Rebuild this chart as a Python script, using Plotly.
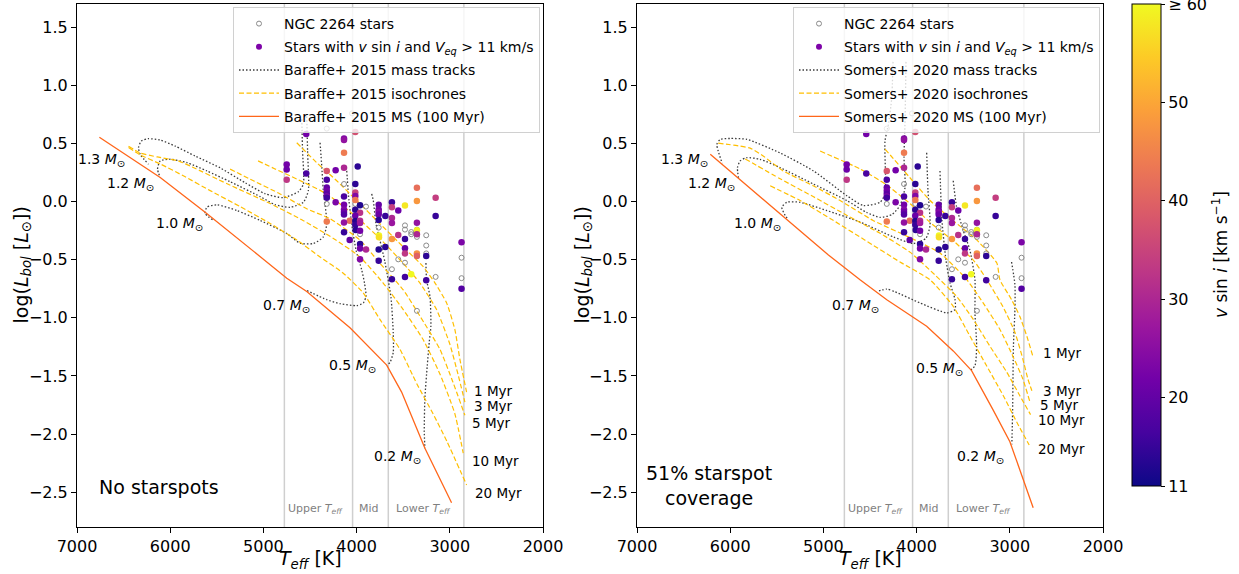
import plotly.graph_objects as go

FONT = "DejaVu Sans"
W, H = 1239, 574

# ---------------- observed stars (same in both panels) ----------------
gray_teff = [4049, 4320, 4135, 3899, 4014, 4320, 3963, 3763, 3481, 3481, 3414, 3414,
             3353, 3353, 3253, 3253, 3253, 3553, 3481, 3621, 3152, 3353, 2874, 2874]
gray_logl = [0.759, 0.628, 0.151, -0.043, -0.020, -0.020, -0.281, -0.224, -0.205, -0.241, -0.262, -0.281,
             -0.241, -0.304, -0.290, -0.378, -0.446, -0.497, -0.526, -0.582, -0.648, -0.940, -0.483, -0.659]

star_teff = [4540, 4135, 4135, 4014, 4135, 4750, 4750, 4750, 4540, 4320,
             4225, 4135, 3988, 4320, 4014, 4320, 4320, 4320, 4320, 4320,
             4014, 4014, 4135, 4014, 3963, 4225, 4135, 4135, 4135, 4135,
             4014, 3963, 4014, 4074, 4135, 4014, 4014, 3963, 3963, 4135,
             4010, 3963, 4074, 3963, 3963, 3899, 3963, 4320, 3763, 3763,
             3763, 3763, 3763, 3692, 3621, 3621, 3553, 3481, 3621, 3621,
             3553, 3760, 3760, 3621, 3481, 3692, 3763, 3763, 3481, 3481,
             3353, 3353, 3152, 3152, 3353, 3353, 3353, 3353, 3353, 3253,
             3621, 3481, 3414, 3253, 2874, 2874]
star_logl = [0.582, 0.543, 0.529, 0.599, 0.420, 0.318, 0.275, 0.188, 0.241, 0.264,
             0.270, 0.292, 0.301, 0.188, 0.151, 0.122, 0.094, 0.068, 0.043, 0.032,
             0.079, 0.049, 0.043, 0.014, -0.032, -0.006, -0.028, -0.068, -0.090, -0.111,
             -0.071, -0.096, -0.122, -0.165, -0.179, -0.168, -0.199, -0.165, -0.185, -0.264,
             -0.245, -0.250, -0.330, -0.364, -0.403, -0.412, -0.497, -0.171, -0.028, -0.068,
             -0.090, -0.111, -0.159, -0.125, -0.006, -0.049, -0.077, -0.034, -0.142, -0.185,
             -0.287, -0.292, -0.307, -0.321, -0.321, -0.390, -0.412, -0.509, -0.401, -0.446,
             0.119, 0.006, 0.034, -0.125, -0.182, -0.247, -0.281, -0.446, -0.469, -0.469,
             -0.668, -0.650, -0.625, -0.676, -0.350, -0.750]
star_vsini = [22, 24, 26, 37, 44, 22, 21, 33, 17, 38,
              22, 30, 14, 17, 14, 20, 22, 19, 24, 16,
              35, 24, 17, 44, 13, 23, 22, 24, 21, 18,
              14, 32, 21, 42, 26, 13, 15, 31, 28, 15,
              14, 22, 20, 14, 22, 30, 24, 44, 20, 22,
              24, 21, 14, 15, 15, 34, 21, 58, 30, 27,
              32, 60, 57, 48, 15, 14, 13, 15, 20, 33,
              42, 48, 34, 15, 26, 59, 30, 47, 40, 14,
              15, 16, 60, 16, 23, 18]

# ---------------- Baraffe+ 2015 ----------------
b15_ms_teff = [6760, 6107, 5625, 5143, 4749, 4535, 4071, 3677, 3517, 3267, 2981]
b15_ms_logl = [0.554, 0.207, -0.091, -0.401, -0.659, -0.773, -1.085, -1.407, -1.639, -2.123, -2.592]

b15_m13_teff = [4588, 4580, 4571, 4625, 4786, 4982, 5196, 5464, 5732, 5946, 6107, 6236, 6311, 6340, 6322, 6233]
b15_m13_logl = [0.708, 0.435, 0.151, 0.085, 0.034, 0.068, 0.162, 0.290, 0.392, 0.477, 0.529, 0.541, 0.520, 0.463, 0.407, 0.321]
b15_m12_teff = [4535, 4526, 4518, 4571, 4714, 4875, 5035, 5357, 5607, 5821, 6000, 6107, 6136, 6107]
b15_m12_logl = [0.733, 0.435, 0.094, -0.006, -0.049, -0.026, 0.043, 0.171, 0.264, 0.335, 0.364, 0.350, 0.279, 0.207]
b15_m10_teff = [4392, 4374, 4357, 4320, 4357, 4464, 4607, 4749, 5035, 5285, 5499, 5607, 5625, 5536]
b15_m10_logl = [0.506, 0.307, 0.094, -0.190, -0.304, -0.361, -0.358, -0.275, -0.162, -0.077, -0.028, -0.049, -0.102, -0.162]
b15_m07_teff = [4106, 4082, 4053, 4006, 3945, 3915, 3899, 3928, 3999, 4178, 4320, 4535]
b15_m07_logl = [0.264, 0.009, -0.190, -0.418, -0.588, -0.702, -0.816, -0.872, -0.895, -0.878, -0.844, -0.765]
b15_m05_teff = [3838, 3821, 3792, 3750, 3696, 3631, 3607, 3607, 3642, 3677]
b15_m05_logl = [0.066, 0.009, -0.190, -0.332, -0.520, -0.827, -1.128, -1.298, -1.384, -1.407]
b15_m02_teff = [3256, 3249, 3213, 3203, 3221, 3242, 3267, 3274, 3267]
b15_m02_logl = [-0.529, -0.673, -0.816, -1.072, -1.213, -1.413, -1.688, -1.980, -2.123]

b15_i01_teff = [4642, 4428, 4213, 3999, 3750, 3500, 3285, 3160, 3034, 2946, 2892, 2820]
b15_i01_logl = [0.506, 0.335, 0.179, 0.009, -0.190, -0.390, -0.560, -0.699, -0.872, -1.100, -1.356, -1.639]
b15_i03_teff = [5057, 4875, 4642, 4320, 3999, 3750, 3500, 3320, 3142, 2999, 2913, 2838]
b15_i03_logl = [0.350, 0.281, 0.194, 0.066, -0.134, -0.318, -0.531, -0.702, -0.929, -1.228, -1.483, -1.725]
b15_i05_teff = [5357, 5107, 4821, 4535, 4286, 3963, 3750, 3500, 3320, 3106, 2967, 2838]
b15_i05_logl = [0.279, 0.179, 0.066, -0.062, -0.147, -0.332, -0.531, -0.759, -0.986, -1.271, -1.552, -1.839]
b15_i10_teff = [6447, 6322, 6139, 5914, 5764, 5389, 4928, 4575, 4253, 3963, 3717, 3500, 3288, 3106, 2946, 2856]
b15_i10_logl = [0.477, 0.418, 0.384, 0.350, 0.298, 0.153, -0.017, -0.162, -0.315, -0.477, -0.699, -0.929, -1.185, -1.483, -1.824, -2.165]
b15_i20_teff = [6447, 6322, 6107, 5839, 5571, 5250, 4928, 4639, 4392, 4146, 3931, 3750, 3535, 3353, 3181, 3031, 2820]
b15_i20_logl = [0.465, 0.401, 0.324, 0.213, 0.094, -0.043, -0.188, -0.332, -0.477, -0.614, -0.784, -1.014, -1.271, -1.569, -1.824, -2.063, -2.438]

# ---------------- Somers+ 2020 (51% spots) ----------------
s20_ms_teff = [6214, 4946, 4607, 4320, 4053, 3892, 3607, 3410, 3178, 2999, 2749]
s20_ms_logl = [0.407, -0.460, -0.673, -0.844, -0.986, -1.072, -1.285, -1.455, -1.794, -2.066, -2.634]

s20_m13_teff = [4253, 4267, 4303, 4339, 4339, 4392, 4571, 4749, 5107, 5464, 5821, 6000, 6107, 6143, 6129, 6086]
s20_m13_logl = [1.202, 0.889, 0.662, 0.520, 0.066, -0.006, -0.034, 0.051, 0.264, 0.418, 0.535, 0.543, 0.535, 0.492, 0.435, 0.330]
s20_m12_teff = [4114, 4124, 4135, 4124, 4178, 4264, 4392, 4535, 4749, 5107, 5464, 5679, 5821, 5893, 5922, 5911]
s20_m12_logl = [1.202, 0.691, 0.378, 0.122, -0.034, -0.111, -0.136, -0.094, 0.009, 0.151, 0.292, 0.364, 0.378, 0.350, 0.292, 0.205]
s20_m10_teff = [3892, 3878, 3856, 3899, 4035, 4250, 4607, 4964, 5250, 5392, 5446, 5410, 5378]
s20_m10_logl = [0.420, 0.094, -0.205, -0.315, -0.361, -0.304, -0.176, -0.077, -0.006, -0.006, -0.049, -0.119, -0.153]
s20_m07_teff = [3749, 3728, 3685, 3642, 3588, 3588, 3677, 3964, 4232, 4320, 4428]
s20_m07_logl = [0.264, -0.162, -0.503, -0.699, -0.844, -0.929, -0.957, -0.872, -0.776, -0.753, -0.775]
s20_m05_teff = [3607, 3570, 3500, 3428, 3374, 3374, 3356, 3374, 3428]
s20_m05_logl = [0.179, -0.049, -0.247, -0.418, -0.673, -0.957, -1.242, -1.413, -1.455]
s20_m02_teff = [2981, 2945, 2945, 2961, 2970, 2978]
s20_m02_logl = [-0.520, -0.716, -0.929, -1.242, -1.810, -2.089]

s20_i01_teff = [4339, 4071, 3856, 3610, 3353, 3139, 3106, 2981, 2892, 2817, 2753]
s20_i01_logl = [0.452, 0.205, 0.009, -0.162, -0.332, -0.529, -0.673, -0.844, -0.989, -1.159, -1.330]
s20_i03_teff = [5035, 4607, 4339, 4071, 3856, 3588, 3374, 3246, 3074, 2945, 2860, 2806, 2763]
s20_i03_logl = [0.435, 0.281, 0.153, -0.017, -0.179, -0.350, -0.520, -0.673, -0.904, -1.125, -1.355, -1.526, -1.628]
s20_i05_teff = [6129, 5786, 5646, 5432, 5110, 4821, 4467, 4103, 3749, 3460, 3288, 3106, 2967, 2860, 2785]
s20_i05_logl = [0.503, 0.460, 0.392, 0.264, 0.136, 0.009, -0.162, -0.298, -0.443, -0.673, -0.870, -1.100, -1.330, -1.526, -1.722]
s20_i10_teff = [5839, 5464, 5110, 4746, 4392, 4071, 3803, 3570, 3392, 3213, 3034, 2892, 2777]
s20_i10_logl = [0.367, 0.196, 0.043, -0.119, -0.273, -0.435, -0.631, -0.816, -1.014, -1.245, -1.466, -1.671, -1.833]
s20_i20_teff = [5571, 5250, 4928, 4553, 4178, 3856, 3607, 3428, 3249, 3071, 2927, 2792]
s20_i20_logl = [0.136, 0.009, -0.145, -0.332, -0.520, -0.673, -0.901, -1.157, -1.413, -1.668, -1.895, -2.095]

# ---------------- labels ----------------
mass_names = ["1.3", "1.2", "1.0", "0.7", "0.5", "0.2"]
iso_names = ["1 Myr", "3 Myr", "5 Myr", "10 Myr", "20 Myr"]
region_bounds = [4775, 4043, 3660, 2849]
region_names = ["Upper <i>T</i><sub><i>eff</i></sub>", "Mid", "Lower <i>T</i><sub><i>eff</i></sub>"]
cbar_ticks = [11, 20, 30, 40, 50, 60]
cbar_text = ["11", "20", "30", "40", "50", "≥ 60"]
x_title = "<i>T</i><sub><i>eff</i></sub> [K]"
y_title = "log(<i>L</i><sub><i>bol</i></sub> [<i>L</i><sub>⊙</sub>])"
cbar_title = "<i>v</i> sin <i>i</i> [km s<sup>−1</sup>]"

b15_tracks = [(b15_m13_teff, b15_m13_logl), (b15_m12_teff, b15_m12_logl), (b15_m10_teff, b15_m10_logl),
              (b15_m07_teff, b15_m07_logl), (b15_m05_teff, b15_m05_logl), (b15_m02_teff, b15_m02_logl)]
b15_isos = [(b15_i01_teff, b15_i01_logl), (b15_i03_teff, b15_i03_logl), (b15_i05_teff, b15_i05_logl),
            (b15_i10_teff, b15_i10_logl), (b15_i20_teff, b15_i20_logl)]
s20_tracks = [(s20_m13_teff, s20_m13_logl), (s20_m12_teff, s20_m12_logl), (s20_m10_teff, s20_m10_logl),
              (s20_m07_teff, s20_m07_logl), (s20_m05_teff, s20_m05_logl), (s20_m02_teff, s20_m02_logl)]
s20_isos = [(s20_i01_teff, s20_i01_logl), (s20_i03_teff, s20_i03_logl), (s20_i05_teff, s20_i05_logl),
            (s20_i10_teff, s20_i10_logl), (s20_i20_teff, s20_i20_logl)]

# label positions (layout)
b15_mass_pos = [(6740, 0.358), (6429, 0.153), (5898, -0.196), (4751, -0.901), (4049, -1.415), (3556, -2.199)]
s20_mass_pos = [(6493, 0.358), (6196, 0.153), (5711, -0.196), (4660, -0.901), (3752, -1.441), (3310, -2.199)]
b15_iso_pos = [(2766, -1.634), (2766, -1.762), (2785, -1.901), (2785, -2.231), (2756, -2.506)]
s20_iso_pos = [(2667, -1.304), (2667, -1.634), (2696, -1.754), (2720, -1.882), (2720, -2.129)]
region_label_x = [4440, 3865, 3283]

TRACK_C = "#3c3c3c"
ISO_C = "#ffbf00"
MS_C = "#ff661a"

# plot area: x 77..1103 px, y 4..527 px
ML, MR, MT, MB = 77, W - 1103, 4, H - 527
PW = W - ML - MR
PH = H - MT - MB
XD1 = [0, 466 / PW]
XD2 = [560 / PW, 1]

fig = go.Figure()

panels = [
    dict(xa="x", ya="y", leg="legend", model="Baraffe+ 2015", tracks=b15_tracks, isos=b15_isos,
         ms=(b15_ms_teff, b15_ms_logl), mpos=b15_mass_pos, ipos=b15_iso_pos, dom=XD1, ytx=22),
    dict(xa="x2", ya="y2", leg="legend2", model="Somers+ 2020", tracks=s20_tracks, isos=s20_isos,
         ms=(s20_ms_teff, s20_ms_logl), mpos=s20_mass_pos, ipos=s20_iso_pos, dom=XD2, ytx=583),
]

annotations = []
shapes = []
for p in panels:
    xa, ya, leg = p["xa"], p["ya"], p["leg"]
    for i, (t, l) in enumerate(p["tracks"]):
        fig.add_trace(go.Scatter(x=t, y=l, mode="lines", xaxis=xa, yaxis=ya,
                                 line=dict(color=TRACK_C, width=1.3, dash="1.5px,2px", shape="spline", smoothing=0.6),
                                 name=p["model"] + " mass tracks", legend=leg, legendgroup=leg + "c",
                                 showlegend=(i == 0), legendrank=3, hoverinfo="skip"))
    for i, (t, l) in enumerate(p["isos"]):
        fig.add_trace(go.Scatter(x=t, y=l, mode="lines", xaxis=xa, yaxis=ya,
                                 line=dict(color=ISO_C, width=1.2, dash="5px,2.5px", shape="spline", smoothing=0.5),
                                 name=p["model"] + " isochrones", legend=leg, legendgroup=leg + "d",
                                 showlegend=(i == 0), legendrank=4, hoverinfo="skip"))
    fig.add_trace(go.Scatter(x=p["ms"][0], y=p["ms"][1], mode="lines", xaxis=xa, yaxis=ya,
                             line=dict(color=MS_C, width=1.3),
                             name=p["model"] + " MS (100 Myr)", legend=leg, legendgroup=leg + "e",
                             legendrank=5, hoverinfo="skip"))
    fig.add_trace(go.Scatter(x=gray_teff, y=gray_logl, mode="markers", xaxis=xa, yaxis=ya,
                             marker=dict(symbol="circle-open", size=5, color="#8a8a8a", line=dict(width=1)),
                             name="NGC 2264 stars", legend=leg, legendgroup=leg + "a", legendrank=1))
    fig.add_trace(go.Scatter(x=star_teff, y=star_logl, mode="markers", xaxis=xa, yaxis=ya,
                             marker=dict(size=6.5, color=star_vsini, coloraxis="coloraxis"),
                             showlegend=False, hoverinfo="skip"))
    fig.add_trace(go.Scatter(x=[None], y=[None], mode="markers", xaxis=xa, yaxis=ya,
                             marker=dict(size=6, color="#7e03a8"),
                             name="Stars with <i>v</i> sin <i>i</i> and <i>V</i><sub><i>eq</i></sub> > 11 km/s",
                             legend=leg, legendgroup=leg + "b", legendrank=2))
    for b in region_bounds:
        shapes.append(dict(type="line", xref=xa, yref=ya + " domain", x0=b, x1=b, y0=0, y1=1,
                           line=dict(color="#cfcfcf", width=1.5), layer="below"))
    for name, (tx, ty) in zip(mass_names, p["mpos"]):
        annotations.append(dict(x=tx, y=ty, xref=xa, yref=ya, text=name + " <i>M</i><sub>⊙</sub>",
                                showarrow=False, font=dict(size=14, color="black", family=FONT)))
    for name, (tx, ty) in zip(iso_names, p["ipos"]):
        annotations.append(dict(x=tx, y=ty, xref=xa, yref=ya, text=name, xanchor="left",
                                showarrow=False, font=dict(size=13.5, color="black", family=FONT)))
    for name, tx in zip(region_names, region_label_x):
        annotations.append(dict(x=tx, y=-2.643, xref=xa, yref=ya, text=name,
                                showarrow=False, font=dict(size=11, color="#7f7f7f", family=FONT)))
    # axis titles
    annotations.append(dict(x=(p["dom"][0] + p["dom"][1]) / 2, y=-(560 - 527) / PH, xref="paper", yref="paper",
                            text=x_title, showarrow=False, xanchor="center", yanchor="middle",
                            font=dict(size=19, color="black", family=FONT)))
    annotations.append(dict(x=(p["ytx"] - ML) / PW, y=0.5, xref="paper", yref="paper",
                            text=y_title, textangle=-90, showarrow=False, xanchor="center", yanchor="middle",
                            font=dict(size=19, color="black", family=FONT)))

annotations.append(dict(x=0.043, y=0.0765, xref="x domain", yref="y domain", text="No starspots",
                        xanchor="left", yanchor="middle", showarrow=False,
                        font=dict(size=19, color="black", family=FONT)))
annotations.append(dict(x=0.1545, y=0.079, xref="x2 domain", yref="y2 domain", text="51% starspot<br>coverage",
                        xanchor="center", yanchor="middle", align="center", showarrow=False,
                        font=dict(size=19, color="black", family=FONT)))

# colorbar title as rotated annotation
annotations.append(dict(x=(1220 - ML) / PW, y=1 - (255 - MT) / PH, xref="paper", yref="paper",
                        text=cbar_title, textangle=-90,
                        showarrow=False, xanchor="center", yanchor="middle",
                        font=dict(size=17, color="black", family=FONT)))

xcommon = dict(range=[7000, 2000], tickvals=[7000, 6000, 5000, 4000, 3000, 2000],
               ticks="outside", ticklen=5, tickwidth=1, tickcolor="black",
               showline=True, linecolor="black", linewidth=1, mirror=True, automargin=False,
               showgrid=False, zeroline=False, tickfont=dict(size=16, color="black"))
ycommon = dict(range=[-2.8, 1.7], tick0=0, dtick=0.5, tickformat=".1f",
               ticks="outside", ticklen=5, tickwidth=1, tickcolor="black",
               showline=True, linecolor="black", linewidth=1, mirror=True, automargin=False,
               showgrid=False, zeroline=False, tickfont=dict(size=16, color="black"))

legcommon = dict(y=1 + (MT - 7) / PH, xanchor="right", yanchor="top",
                 bgcolor="rgba(255,255,255,0.8)",
                 bordercolor="#d0d0d0", borderwidth=1, font=dict(size=14, color="black", family=FONT),
                 traceorder="grouped", tracegroupgap=2, itemwidth=40)

fig.update_layout(
    width=W, height=H,
    margin=dict(l=ML, r=MR, t=MT, b=MB, autoexpand=False),
    paper_bgcolor="white", plot_bgcolor="white",
    font=dict(family=FONT, color="black"),
    xaxis=dict(domain=XD1, anchor="y", **xcommon),
    yaxis=dict(domain=[0, 1], anchor="x", **ycommon),
    xaxis2=dict(domain=XD2, anchor="y2", **xcommon),
    yaxis2=dict(domain=[0, 1], anchor="x2", **ycommon),
    legend=dict(x=(540 - ML) / PW, **legcommon),
    legend2=dict(x=(1100 - ML) / PW, **legcommon),
    coloraxis=dict(colorscale="Plasma", cmin=11, cmax=60,
                   colorbar=dict(x=(1132 - ML) / PW, xanchor="left", xpad=0, ypad=0,
                                 y=1, yanchor="top", len=482, lenmode="pixels",
                                 thickness=29, thicknessmode="pixels",
                                 outlinecolor="black", outlinewidth=1,
                                 tickvals=cbar_ticks, ticktext=cbar_text, ticklabeloverflow="allow",
                                 ticks="outside", ticklen=4, tickcolor="black",
                                 tickfont=dict(size=16, color="black"))),
    annotations=annotations,
    shapes=shapes,
    showlegend=True,
)

fig.write_html("out.html", config={"displayModeBar": False},
               post_script="document.body.style.margin='0px';document.body.style.padding='0px';")
